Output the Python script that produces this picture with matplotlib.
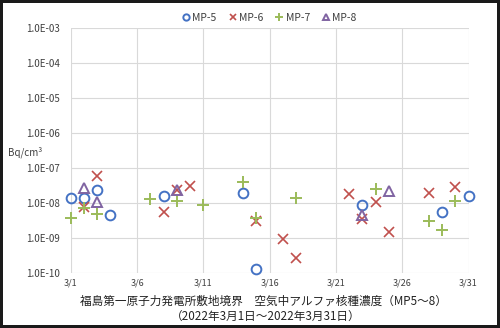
import numpy as np
import matplotlib
matplotlib.use('Agg')
import matplotlib.pyplot as plt

plt.rcParams['font.family'] = ['Noto Sans CJK JP', 'DejaVu Sans']

# day of March 2022 and concentration (Bq/cm3) per monitoring post
mp5_day = [1, 2, 3, 4, 8, 14, 15, 23, 29, 31]
mp5_val = [1.45e-8, 1.4e-8, 2.4e-8, 4.5e-9, 1.6e-8, 2.0e-8, 1.3e-10, 9.0e-9, 5.7e-9, 1.65e-8]

mp6_day = [2, 3, 8, 9, 10, 15, 17, 18, 22, 23, 24, 25, 28, 30]
mp6_val = [8.0e-9, 6.0e-8, 5.7e-9, 2.4e-8, 3.1e-8, 3.2e-9, 9.3e-10, 2.8e-10,
           1.9e-8, 3.5e-9, 1.1e-8, 1.55e-9, 2.0e-8, 2.9e-8]

mp7_day = [1, 2, 3, 7, 9, 11, 14, 15, 18, 24, 28, 29, 30]
mp7_val = [3.7e-9, 7.2e-9, 4.9e-9, 1.3e-8, 1.2e-8, 8.9e-9, 4.0e-8, 3.9e-9,
           1.45e-8, 2.6e-8, 3.2e-9, 1.7e-9, 1.2e-8]

mp8_day = [2, 3, 9, 23, 25]
mp8_val = [2.8e-8, 1.1e-8, 2.4e-8, 4.6e-9, 2.25e-8]

x_ticks = [1, 6, 11, 16, 21, 26, 31]
x_labels = ['3/1', '3/6', '3/11', '3/16', '3/21', '3/26', '3/31']
y_ticks = [1e-10, 1e-9, 1e-8, 1e-7, 1e-6, 1e-5, 1e-4, 1e-3]
y_labels = ['1.0E-10', '1.0E-09', '1.0E-08', '1.0E-07', '1.0E-06', '1.0E-05', '1.0E-04', '1.0E-03']

fig = plt.figure(figsize=(5, 3.28), dpi=100, edgecolor='#1a1a1a', linewidth=4)
ax = fig.add_axes([0.1414, 0.1668, 0.7956, 0.7469])

ms = 7
ax.plot(mp5_day, mp5_val, 'o', ms=ms, mfc='none', mec='#4472C4', mew=1.4, label='MP-5', clip_on=False)
ax.plot(mp6_day, mp6_val, 'x', ms=ms, mec='#C0504D', mew=1.2, label='MP-6', clip_on=False)
ax.plot(mp7_day, mp7_val, '+', ms=ms + 1, mec='#9BBB59', mew=1.4, label='MP-7', clip_on=False)
ax.plot(mp8_day, mp8_val, '^', ms=ms, mfc='none', mec='#8064A2', mew=1.4, label='MP-8', clip_on=False)

ax.set_yscale('log')
ax.set_ylim(1e-10, 1e-3)
ax.set_xlim(1, 31)
ax.set_yticks(y_ticks)
ax.set_yticklabels(y_labels)
ax.yaxis.set_minor_locator(matplotlib.ticker.NullLocator())
ax.set_xticks(x_ticks)
ax.set_xticklabels(x_labels)
ax.tick_params(axis='y', length=0, labelsize=7, colors='#404040', pad=8)
ax.tick_params(axis='x', length=0, labelsize=6.5, colors='#404040', pad=4)
ax.grid(True, color='#d9d9d9', lw=0.8)
ax.set_axisbelow(True)
for s in ax.spines.values():
    s.set_visible(False)

ax.legend(loc='lower center', bbox_to_anchor=(0.5, 1.0), ncol=4, frameon=False,
          fontsize=7.5, handlelength=0.7, handletextpad=0.25, columnspacing=1.2,
          markerscale=0.65, borderaxespad=0.1, labelcolor='#404040')

fig.text(0.016, 0.535, 'Bq/cm³', fontsize=7, color='#404040', va='center')
fig.text(0.526, 0.080, '福島第一原子力発電所敷地境界　空気中アルファ核種濃度（MP5～8）',
         fontsize=8.4, ha='center', va='center', color='#222222')
fig.text(0.532, 0.033, '（2022年3月1日～2022年3月31日）',
         fontsize=8.4, ha='center', va='center', color='#222222')

fig.savefig('out.png', dpi=100, edgecolor=fig.get_edgecolor())
